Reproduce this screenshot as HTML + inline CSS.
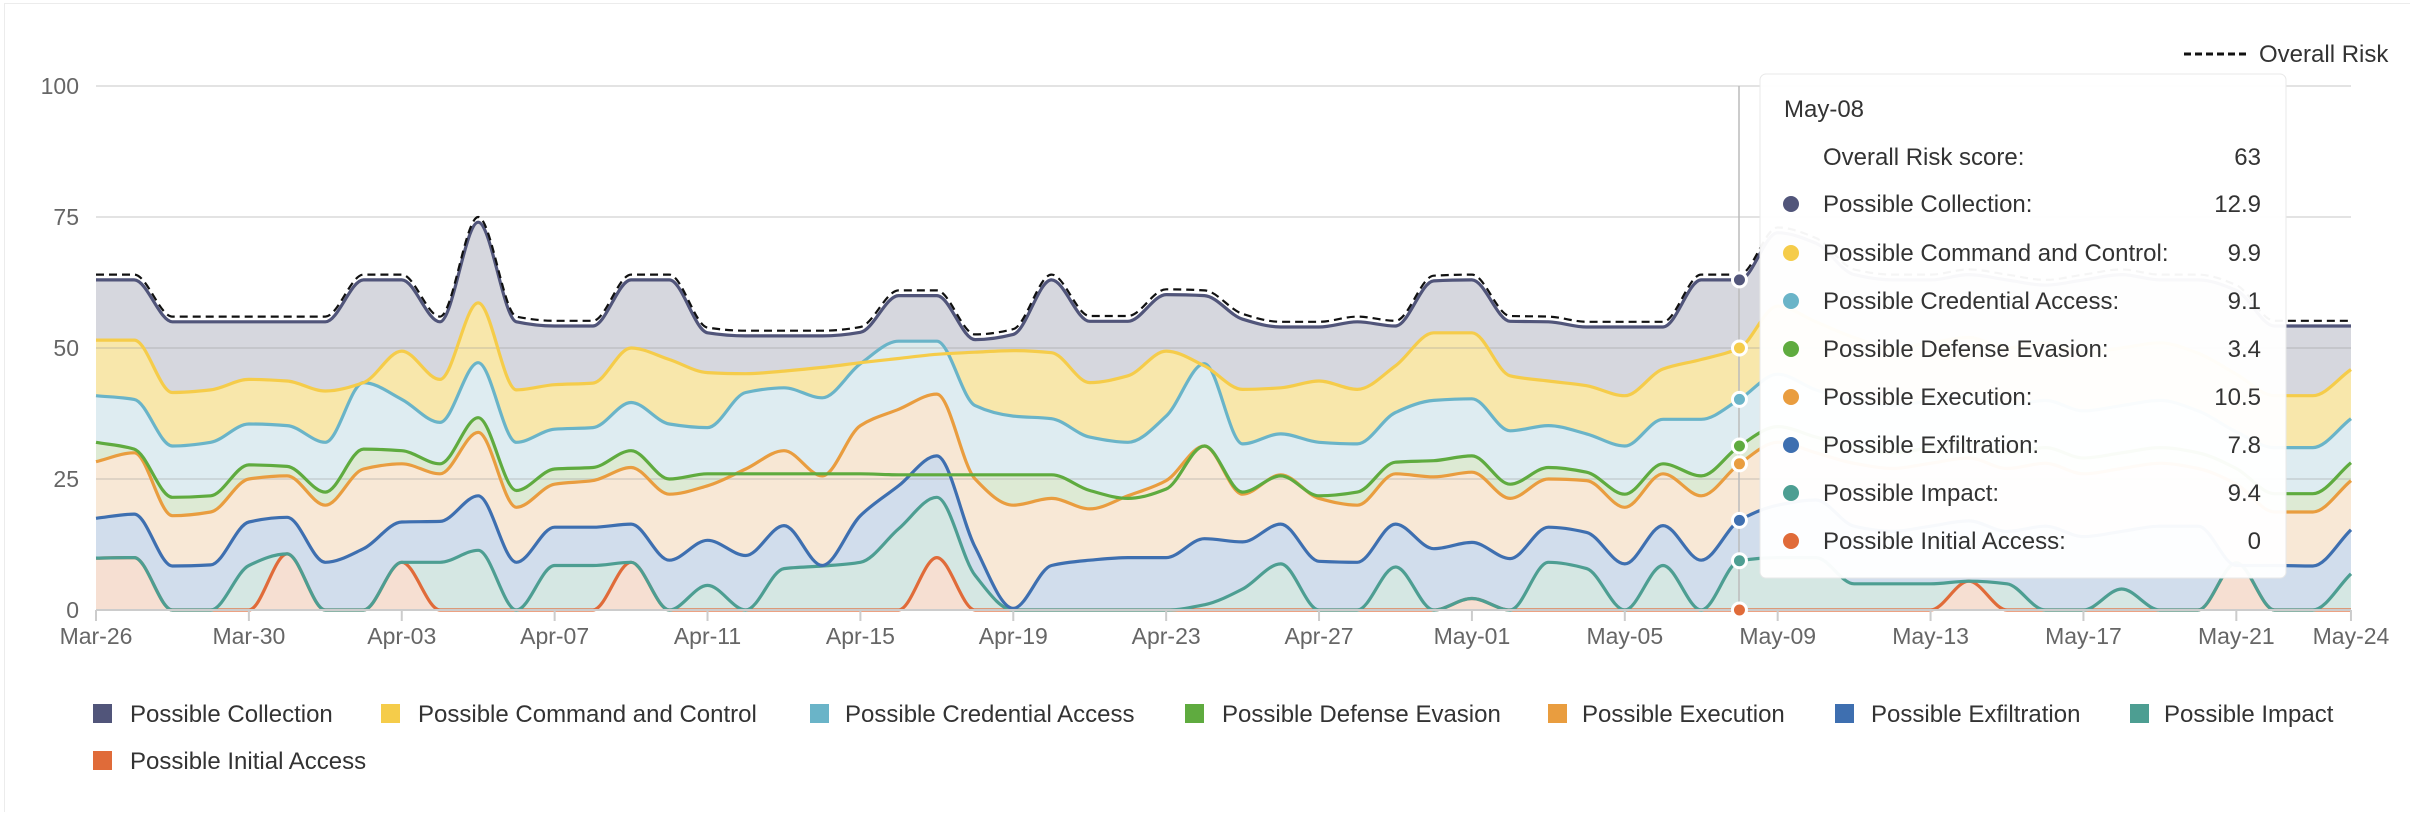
<!DOCTYPE html>
<html><head><meta charset="utf-8">
<style>
html,body{margin:0;padding:0;background:#fff;}
body{width:2410px;height:812px;overflow:hidden;font-family:"Liberation Sans",Arial,sans-serif;}
svg text{font-family:"Liberation Sans",Arial,sans-serif;}
</style></head>
<body>
<svg id="c" width="2410" height="812" viewBox="0 0 2410 812" xmlns="http://www.w3.org/2000/svg">
<rect x="4.5" y="3.5" width="2410" height="820" fill="none" stroke="#ececec" stroke-width="1"/>
<g id="grid">
<line x1="96" y1="86" x2="2351" y2="86" stroke="#e3e3e3" stroke-width="2"/>
<line x1="96" y1="217" x2="2351" y2="217" stroke="#e3e3e3" stroke-width="2"/>
<line x1="96" y1="348" x2="2351" y2="348" stroke="#e3e3e3" stroke-width="2"/>
<line x1="96" y1="479" x2="2351" y2="479" stroke="#e3e3e3" stroke-width="2"/>
</g>
<g font-size="23" fill="#666" text-anchor="end">
<text x="79" y="94">100</text>
<text x="79" y="225">75</text>
<text x="79" y="356">50</text>
<text x="79" y="487">25</text>
<text x="79" y="618">0</text>
</g>
<g id="areas"></g>
<g id="gridover">
<line x1="96" y1="348" x2="2351" y2="348" stroke="#999" stroke-opacity="0.25" stroke-width="2"/>
<line x1="96" y1="479" x2="2351" y2="479" stroke="#999" stroke-opacity="0.25" stroke-width="2"/>
</g>
<g id="lines"></g>
<line x1="96" y1="610" x2="2351" y2="610" stroke="#ccc" stroke-width="2"/>
<g id="ticks"></g>
<line x1="1739" y1="86" x2="1739" y2="610" stroke="#bbb" stroke-width="1.5"/>
<g id="markers"></g>

<g>
<line x1="2184" y1="54" x2="2246" y2="54" stroke="#111" stroke-width="3" stroke-dasharray="7,4"/>
<text x="2259" y="62" font-size="24" fill="#333">Overall Risk</text>
</g>

<g>
<rect x="1760" y="74" width="526" height="504" rx="6" fill="#fff" fill-opacity="0.96" stroke="#e8e8e8" stroke-width="1"/>
<g font-size="24" fill="#333">
<text x="1784" y="117">May-08</text>
<text x="1823" y="165">Overall Risk score:</text><text x="2261" y="165" text-anchor="end">63</text>
<circle cx="1791" cy="204" r="8" fill="#51557a"/><text x="1823" y="212">Possible Collection:</text><text x="2261" y="212" text-anchor="end">12.9</text>
<circle cx="1791" cy="253" r="8" fill="#f5cc4a"/><text x="1823" y="261">Possible Command and Control:</text><text x="2261" y="261" text-anchor="end">9.9</text>
<circle cx="1791" cy="301" r="8" fill="#6ab4c8"/><text x="1823" y="309">Possible Credential Access:</text><text x="2261" y="309" text-anchor="end">9.1</text>
<circle cx="1791" cy="349" r="8" fill="#5fab3f"/><text x="1823" y="357">Possible Defense Evasion:</text><text x="2261" y="357" text-anchor="end">3.4</text>
<circle cx="1791" cy="397" r="8" fill="#e99d3f"/><text x="1823" y="405">Possible Execution:</text><text x="2261" y="405" text-anchor="end">10.5</text>
<circle cx="1791" cy="445" r="8" fill="#3e6fb0"/><text x="1823" y="453">Possible Exfiltration:</text><text x="2261" y="453" text-anchor="end">7.8</text>
<circle cx="1791" cy="493" r="8" fill="#4d9e92"/><text x="1823" y="501">Possible Impact:</text><text x="2261" y="501" text-anchor="end">9.4</text>
<circle cx="1791" cy="541" r="8" fill="#e06b39"/><text x="1823" y="549">Possible Initial Access:</text><text x="2261" y="549" text-anchor="end">0</text>
</g>
</g>

<g font-size="24" fill="#333">
<rect x="93" y="704" width="19" height="19" fill="#51557a"/><text x="130" y="722">Possible Collection</text>
<rect x="381" y="704" width="19" height="19" fill="#f5cc4a"/><text x="418" y="722">Possible Command and Control</text>
<rect x="810" y="704" width="19" height="19" fill="#6ab4c8"/><text x="845" y="722">Possible Credential Access</text>
<rect x="1185" y="704" width="19" height="19" fill="#5fab3f"/><text x="1222" y="722">Possible Defense Evasion</text>
<rect x="1548" y="704" width="19" height="19" fill="#e99d3f"/><text x="1582" y="722">Possible Execution</text>
<rect x="1835" y="704" width="19" height="19" fill="#3e6fb0"/><text x="1871" y="722">Possible Exfiltration</text>
<rect x="2130" y="704" width="19" height="19" fill="#4d9e92"/><text x="2164" y="722">Possible Impact</text>
<rect x="93" y="751" width="19" height="19" fill="#e06b39"/><text x="130" y="769">Possible Initial Access</text>
</g>
</svg>
<script>
(function(){
var NS="http://www.w3.org/2000/svg";
function X(i){return 96+i*38.22;}
function Y(v){return 610-v*5.24;}
var R=[9.9,10,0,0,0,10.7,0,0,9.1,0,0,0,0,0,9.1,0,0,0,0,0,0,0,10,0,0,0,0,0,0,0,0,0,0,0,0,0,2.2,0,0,0,0,0,0,0,0,0,0,0,0,5.5,0,0,0,0,0,0,9,0,0,0];
var T=[9.9,10,0,0,8.5,10.7,0,0,9.1,9.1,11.4,0,8.5,8.5,9.1,0,4.7,0,7.9,8.4,9.1,15.5,21.5,6.6,0,0,0,0,0,1,4,8.8,0,0,8.2,0,2.2,0,9.1,7.9,0,8.5,0,9.4,10,10,5,5,5,5.5,5,0,0,4,0,0,9,0,0,6.9];
var B=[17.5,18.3,8.4,8.6,16.8,17.7,9.1,11.7,16.8,16.9,21.8,9.1,15.8,15.8,16.4,9.5,13.3,10.4,16.1,8.5,18,23.7,29.4,12,0.3,8.5,9.5,10,10,13.6,13,16.4,9.3,9.1,16.4,11.7,12.9,9.8,15.8,14.8,8.8,16.1,9.5,17.1,20,21,16,15,16,17,15,16,14,15,16,16,8.5,8.5,8.4,15.3];
var O=[28.3,30,18,18.7,25,25.6,20,26.9,27.9,26,33.9,19.6,24,24.7,27.2,22.1,23.7,26.9,30.4,25.6,35.2,38.3,41.2,25,20,21.3,19.3,21.8,24.7,31.3,22.1,25.8,21.3,20,26,25.4,26.3,21.3,25,24.7,19.6,26,21.8,27.9,32,30,28,27,28,29,27,28,26,27,28,27,24,18.7,18.7,24.7];
var G=[32,30.7,21.5,21.8,27.7,27.4,22.5,30.7,30.4,27.9,36.7,22.8,26.9,27.2,30.4,25,26,26,26,26,26,25.8,25.8,25.8,25.8,25.8,22.8,21.3,23.1,31.3,22.5,25.6,21.8,22.5,28.2,28.5,29.4,24,27.2,26.3,22.1,27.9,25.6,31.3,35,33,31,30,31,32,30,31,29,30,31,30,27,22.2,22.2,28.1];
var C=[40.9,40.2,31.3,32,35.5,35.2,32,43.4,40.2,35.8,47.2,32,34.5,34.8,39.6,35.5,34.8,41.5,42.4,40.5,47,51.3,51.3,39,37,36.5,33,32,37,47,31.7,33.6,32,31.7,37.7,40,40.3,34.2,35.2,33.6,31.3,36.4,36.4,40.2,45,42,40,39,40,41,39,40,38,39,40,38,34,31,31,36.5];
var Yl=[51.5,51.5,41.5,42,44,43.7,41.8,43.4,49.4,44,58.6,42,43,43.3,50,47.8,45.3,45.1,45.6,46.3,47.2,48,48.8,49.2,49.5,49.1,43.4,44.7,49.4,46.6,42.1,42.4,43.7,42.1,46.6,52.9,52.9,44.7,43.7,42.8,40.9,46,47.8,50,58,55,52,50,51,52,50,51,49,50,51,49,45,40.9,40.9,45.9];
var K=[63,63,55,55,55,55,55,63,63,55,74,55,54.2,54.2,63,63,52.9,52.3,52.3,52.3,53,60,60,51.6,52.6,63,55.1,55.1,60.2,60,55.5,54,54,55,54.2,62.8,63,55.1,55,54,54,54,63,63,72,70,64,63,63,64,63,62,63,64,63,63,61,54.2,54.2,54.2];
var D=K.map(function(v){return v+1;});
function pts(a){return a.map(function(v,i){return [X(i),Y(v)];});}
function mono(p){
 var n=p.length,d=[],m=[];
 for(var i=0;i<n-1;i++){d.push((p[i+1][1]-p[i][1])/(p[i+1][0]-p[i][0]));}
 m[0]=d[0];m[n-1]=d[n-2];
 for(i=1;i<n-1;i++){ if(d[i-1]*d[i]<=0)m[i]=0; else m[i]=2/(1/d[i-1]+1/d[i]); }
 var s="";
 for(i=0;i<n-1;i++){
  var h=(p[i+1][0]-p[i][0])/3;
  s+=" C"+(p[i][0]+h).toFixed(1)+","+(p[i][1]+m[i]*h).toFixed(1)+" "+(p[i+1][0]-h).toFixed(1)+","+(p[i+1][1]-m[i+1]*h).toFixed(1)+" "+p[i+1][0].toFixed(1)+","+p[i+1][1].toFixed(1);
 }
 return s;
}
function line(a){var p=pts(a);return "M"+p[0][0]+","+p[0][1]+mono(p);}
function area(u,l){
 var pu=pts(u),pl=pts(l).reverse();
 return "M"+pu[0][0]+","+pu[0][1]+mono(pu)+" L"+pl[0][0]+","+pl[0][1]+mono(pl)+" Z";
}
var Z=R.map(function(){return 0;});
var S=[
 [K,Yl,"#51557a","#d4d5dc"],
 [Yl,C,"#f5cc4a","#f8e6a6"],
 [C,G,"#6ab4c8","#dcebf0"],
 [G,O,"#5fab3f","#dbe9d2"],
 [O,B,"#e99d3f","#f8e7d4"],
 [B,T,"#3e6fb0","#cfdbeb"],
 [T,R,"#4d9e92","#d3e6e2"],
 [R,Z,"#e06b39","#f6ddd0"]
];
var ga=document.getElementById("areas"),gl=document.getElementById("lines"),gm=document.getElementById("markers");
function el(t,at,par){var e=document.createElementNS(NS,t);for(var k in at)e.setAttribute(k,at[k]);par.appendChild(e);return e;}
S.forEach(function(s){el("path",{d:area(s[0],s[1]),fill:s[3],"fill-opacity":"0.95"},ga);});
S.slice().reverse().forEach(function(s){el("path",{d:line(s[0]),fill:"none",stroke:s[2],"stroke-width":"3.2","stroke-linejoin":"round"},gl);});
el("path",{d:line(D),fill:"none",stroke:"#111","stroke-width":"2.2","stroke-dasharray":"8,5"},gl);
S.forEach(function(s){el("circle",{cx:X(43),cy:Y(s[0][43]),r:"7",fill:s[2],stroke:"#fff","stroke-width":"3"},gm);});
var gt=document.getElementById("ticks");
var labs=[[0,"Mar-26"],[4,"Mar-30"],[8,"Apr-03"],[12,"Apr-07"],[16,"Apr-11"],[20,"Apr-15"],[24,"Apr-19"],[28,"Apr-23"],[32,"Apr-27"],[36,"May-01"],[40,"May-05"],[44,"May-09"],[48,"May-13"],[52,"May-17"],[56,"May-21"],[59,"May-24"]];
labs.forEach(function(l){
 var x=X(l[0]);
 el("line",{x1:x,y1:610,x2:x,y2:621,stroke:"#ccc","stroke-width":"2"},gt);
 var t=el("text",{x:x,y:644,"font-size":"23",fill:"#666","text-anchor":"middle"},gt);
 t.textContent=l[1];
});
})();
</script>
</body></html>
